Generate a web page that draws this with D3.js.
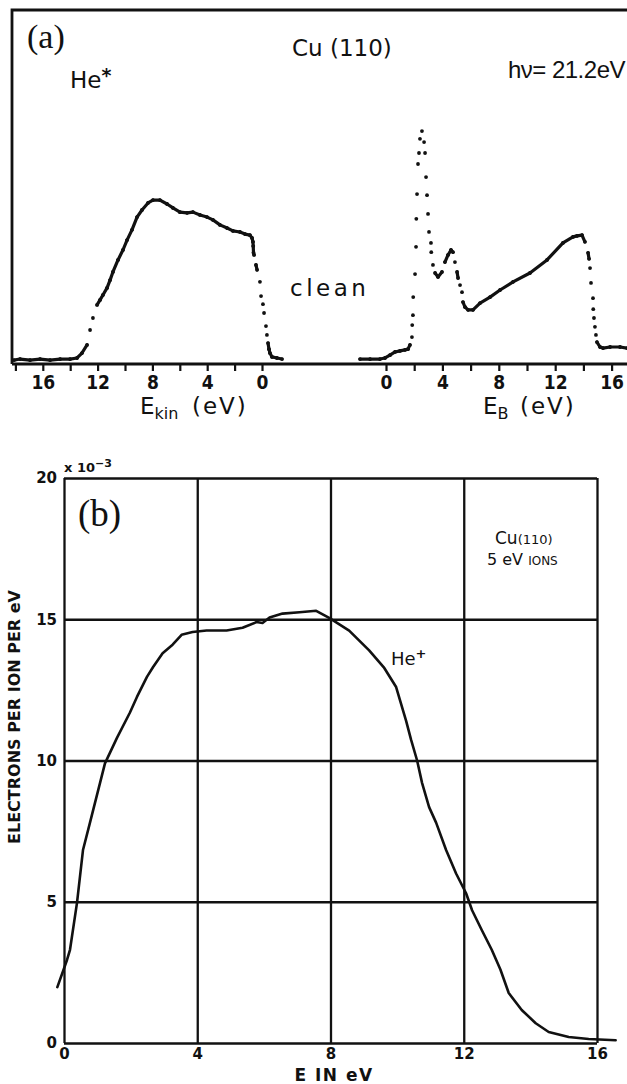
<!DOCTYPE html>
<html>
<head>
<meta charset="utf-8">
<script src="https://cdn.jsdelivr.net/npm/d3@7"></script>
<style>
  body { margin: 0; background: #fff; }
  svg { display: block; }
</style>
</head>
<body>
<svg></svg>
<script>
// root svg element

const width = 627, height = 1084;
const ink = '#111';
const sans = "'DejaVu Sans', sans-serif";
const arial = "'Liberation Sans', Arial, sans-serif";
const narrow = "'Liberation Sans Narrow', 'DejaVu Sans Condensed', 'Liberation Sans', sans-serif";
const serif = "'Liberation Serif', 'DejaVu Serif', serif";

const svg = d3.select('svg')
  .attr('width', width)
  .attr('height', height)
  .style('background', '#fff');


// data, panel (a): He* de-excitation spectrum (kinetic energy, eV) and UPS (binding energy, eV)
// intensities in arbitrary units, 0..100 = axis .. top of frame

const kinEnergy = [18.1, 17.66, 16.93, 16.2, 15.47, 14.74, 14.01, 13.5, 13.14, 12.77, 12.55, 12.34, 12.04,
  11.82, 11.61, 11.31, 11.09, 10.88, 10.51, 10.15, 9.85, 9.49, 9.12, 8.76, 8.32, 7.96, 7.45, 6.93, 6.5,
  5.99, 5.47, 5.04, 4.53, 4.01, 3.58, 3.07, 2.55, 2.12, 1.61, 1.24, 0.88, 0.73, 0.66, 0.64, 0.62, 0.58,
  0.44, 0.36, 0.15, 0.07, -0.07, -0.15, -0.29, -0.36, -0.44, -0.51, -0.58, -0.73, -1.09, -1.46];
const kinCounts = [1.1, 1.4, 1.1, 1.4, 1.1, 1.4, 1.4, 1.7, 3.1, 5.4, 9.6, 13.0, 16.7,
  18.1, 19.5, 21.5, 23.7, 26.0, 29.4, 32.2, 35.0, 37.9, 41.5, 43.5, 45.5, 46.3, 46.3, 45.2, 44.1,
  42.9, 42.7, 42.9, 42.1, 41.5, 40.7, 39.3, 38.4, 37.6, 37.3, 36.7, 36.4, 35.6, 34.5, 33.3, 31.4, 30.8,
  28.0, 26.6, 23.2, 19.2, 16.9, 14.4, 10.7, 8.2, 5.9, 4.2, 3.1, 2.0, 1.7, 1.4];

const bindEnergy = [-1.84, -1.13, -0.43, -0.07, 0.28, 0.64, 0.99, 1.35, 1.56, 1.7, 1.84, 1.86, 1.91, 1.93,
  2.06, 2.13, 2.15, 2.2, 2.27, 2.34, 2.41, 2.55, 2.7, 2.77, 2.84, 2.91, 2.98, 3.05, 3.19, 3.21, 3.33,
  3.48, 3.69, 3.97, 4.18, 4.4, 4.61, 4.75, 4.89, 5.04, 5.11, 5.25, 5.39, 5.46, 5.6, 5.82, 6.17, 6.67,
  7.38, 8.09, 9.01, 10.21, 11.42, 12.55, 13.26, 13.55, 13.9, 14.11, 14.33, 14.4, 14.47, 14.54, 14.68,
  14.7, 14.75, 14.82, 14.89, 14.96, 15.18, 15.39, 15.89, 16.6, 17.09];
const bindCounts = [1.4, 1.4, 1.4, 1.7, 2.5, 3.4, 3.7, 4.0, 4.2, 5.4, 7.6, 11.0, 13.8, 18.9,
  25.4, 33.1, 41.0, 48.0, 56.5, 59.6, 63.6, 65.8, 62.7, 59.6, 52.8, 47.7, 42.4, 37.3, 34.2, 31.6, 28.0,
  25.7, 24.6, 26.0, 28.8, 30.8, 32.2, 31.6, 28.8, 26.0, 24.3, 22.3, 20.3, 17.5, 16.1, 15.3, 15.3, 17.2,
  18.9, 20.9, 23.2, 25.7, 29.4, 34.2, 35.9, 36.2, 36.4, 34.5, 31.4, 29.7, 27.1, 22.9, 18.6,
  15.5, 13.0, 10.5, 8.2, 6.2, 4.8, 4.5, 4.8, 4.8, 4.5];

const kinTicks = [0, 2, 4, 6, 8, 10, 12, 14, 16, 18];
const bindTicks = [0, 2, 4, 6, 8, 10, 12, 14, 16];


// data, panel (b): He+ ion neutralization, electrons per ion per eV (x 10^-3)

const ionEnergy = [-0.2, 0.09, 0.18, 0.39, 0.57, 0.78, 1.08, 1.23, 1.59, 1.98, 2.19, 2.49, 2.67, 2.96,
  3.26, 3.53, 3.86, 4.28, 4.88, 5.36, 5.78, 5.96, 6.17, 6.56, 7.07, 7.57, 7.96, 8.56, 9.16, 9.6, 9.97,
  10.27, 10.42, 10.6, 10.75, 10.96, 11.17, 11.47, 11.77, 12.07, 12.25, 12.54, 12.84, 13.1, 13.35,
  13.74, 14.16, 14.55, 15.15, 15.75, 16.56];
const ionYield = [1.98, 2.94, 3.3, 4.96, 6.83, 7.8, 9.2, 9.9, 10.8, 11.7, 12.25, 12.96, 13.3, 13.8,
  14.1, 14.45, 14.55, 14.6, 14.6, 14.7, 14.9, 14.87, 15.06, 15.2, 15.25, 15.3, 15.05, 14.6, 13.9, 13.3, 12.6,
  11.4, 10.73, 10.0, 9.2, 8.35, 7.8, 6.83, 6.0, 5.3, 4.7, 4.0, 3.3, 2.6, 1.77,
  1.17, 0.7, 0.39, 0.21, 0.14, 0.1];

const ionXTicks = [0, 4, 8, 12, 16];
const ionYTicks = [0, 5, 10, 15, 20];


// ================= panel (a) =================

const a = { left: 12, top: 10, right: 627, bottom: 364 };

const xKin = d3.scaleLinear().domain([0, 18]).range([262, 15.4]);
const xBind = d3.scaleLinear().domain([0, 16]).range([386, 611.6]);
const yA = d3.scaleLinear().domain([0, 100]).range([a.bottom, a.top]);

const aG = svg.append('g').attr('class', 'panel-a');

// frame (left + top) and shared baseline

aG.append('path')
  .attr('d', `M${a.left},${a.bottom}V${a.top}H${a.right}`)
  .attr('fill', 'none')
  .attr('stroke', ink)
  .attr('stroke-width', 2.8);

aG.append('line')
  .attr('x1', a.left).attr('x2', a.right)
  .attr('y1', a.bottom).attr('y2', a.bottom)
  .attr('stroke', ink)
  .attr('stroke-width', 3);

// axes

function styleAxisA(g) {
  g.select('.domain').remove();
  g.selectAll('.tick line').attr('stroke', ink).attr('stroke-width', 2.2);
  g.selectAll('.tick text')
    .attr('fill', ink)
    .style('font-family', narrow)
    .style('font-size', '19px')
    .style('font-weight', 'bold');
}

aG.append('g')
  .attr('transform', `translate(0,${a.bottom})`)
  .call(d3.axisBottom(xKin).tickValues(kinTicks).tickSize(7).tickPadding(5)
    .tickFormat(d => d % 4 === 0 ? d : ''))
  .call(styleAxisA);

aG.append('g')
  .attr('transform', `translate(0,${a.bottom})`)
  .call(d3.axisBottom(xBind).tickValues(bindTicks).tickSize(7).tickPadding(5)
    .tickFormat(d => d % 4 === 0 ? d : ''))
  .call(styleAxisA);

// axis titles

function subLabel(g, x, y, main, sub, unit, unitX) {
  const t = g.append('text')
    .attr('x', x).attr('y', y)
    .attr('fill', ink)
    .style('font-family', sans)
    .style('font-size', '23px');
  t.append('tspan').text(main);
  t.append('tspan').text(sub).attr('dy', 5).style('font-size', '16px');
  t.append('tspan').text(unit).attr('x', unitX).attr('dy', -5).attr('letter-spacing', 2);
}

subLabel(aG, 140, 414, 'E', 'kin', '(eV)', 192);
subLabel(aG, 483, 414, 'E', 'B', '(eV)', 520);

// annotations

aG.append('text')
  .attr('x', 27).attr('y', 48)
  .attr('fill', ink)
  .style('font-family', serif)
  .style('font-size', '34px')
  .text('(a)');

const heStar = aG.append('text')
  .attr('x', 70).attr('y', 88)
  .attr('fill', ink)
  .style('font-family', sans)
  .style('font-size', '23px');
heStar.append('tspan').text('He');
heStar.append('tspan').text('*').attr('dy', -6).style('font-weight', 'bold').style('font-size', '19px');

aG.append('text')
  .attr('x', 292).attr('y', 56)
  .attr('fill', ink)
  .style('font-family', sans)
  .style('font-size', '23px')
  .text('Cu (110)');

aG.append('text')
  .attr('x', 625).attr('y', 78)
  .attr('text-anchor', 'end')
  .attr('fill', ink)
  .style('font-family', arial)
  .style('font-size', '24px')
  .attr('letter-spacing', -0.5)
  .text('hν= 21.2eV');

aG.append('text')
  .attr('x', 290).attr('y', 296)
  .attr('fill', ink)
  .style('font-family', sans)
  .style('font-size', '23px')
  .attr('letter-spacing', 3.5)
  .text('clean');

// dotted recorder traces: points are dots; flat stretches merge into a line

function drawTrace(g, xs, ys, x, y) {
  const pts = xs.map((e, i) => [x(e), y(ys[i])]);
  const segs = d3.pairs(pts).filter(([p, q]) => {
    const dx = Math.abs(q[0] - p[0]), dy = Math.abs(q[1] - p[1]);
    return Math.hypot(dx, dy) < 7 || dy < 3 * dx;
  });

  g.append('g')
    .selectAll('line')
    .data(segs)
    .join('line')
      .attr('x1', d => d[0][0]).attr('y1', d => d[0][1])
      .attr('x2', d => d[1][0]).attr('y2', d => d[1][1])
      .attr('stroke', ink)
      .attr('stroke-width', 3.2)
      .attr('stroke-linecap', 'round');

  g.append('g')
    .selectAll('circle')
    .data(pts)
    .join('circle')
      .attr('cx', d => d[0])
      .attr('cy', d => d[1])
      .attr('r', 1.9)
      .attr('fill', ink);
}

drawTrace(aG, kinEnergy, kinCounts, xKin, yA);
drawTrace(aG, bindEnergy, bindCounts, xBind, yA);


// ================= panel (b) =================

const b = { left: 64, top: 478, right: 597, bottom: 1043 };

const xIon = d3.scaleLinear().domain([0, 16]).range([b.left, b.right]);
const yIon = d3.scaleLinear().domain([0, 20]).range([b.bottom, b.top]);

const bG = svg.append('g').attr('class', 'panel-b');

function styleAxisB(g) {
  g.select('.domain').remove();
  g.selectAll('.tick line').attr('stroke', ink).attr('stroke-width', 2.3);
  g.selectAll('.tick text')
    .attr('fill', ink)
    .style('font-family', sans)
    .style('font-size', '15px')
    .style('font-weight', 'bold');
}

// grid doubles as the frame

bG.append('g')
  .attr('transform', `translate(0,${b.bottom})`)
  .call(d3.axisBottom(xIon).tickValues(ionXTicks).tickSize(-(b.bottom - b.top)).tickPadding(5))
  .call(styleAxisB);

bG.append('g')
  .attr('transform', `translate(${b.left},0)`)
  .call(d3.axisLeft(yIon).tickValues(ionYTicks).tickSize(-(b.right - b.left)).tickPadding(7))
  .call(styleAxisB);

// scale multiplier

const mult = bG.append('text')
  .attr('x', 64).attr('y', 472)
  .attr('fill', ink)
  .style('font-family', sans)
  .style('font-size', '13px')
  .style('font-weight', 'bold');
mult.append('tspan').text('x 10');
mult.append('tspan').text('−3').attr('dy', -5).style('font-size', '11px');

// axis titles

bG.append('text')
  .attr('x', 334).attr('y', 1081)
  .attr('text-anchor', 'middle')
  .attr('fill', ink)
  .style('font-family', sans)
  .style('font-size', '17px')
  .style('font-weight', 'bold')
  .attr('letter-spacing', 1.5)
  .text('E IN eV');

bG.append('text')
  .attr('transform', 'translate(20,717) rotate(-90)')
  .attr('text-anchor', 'middle')
  .attr('fill', ink)
  .style('font-family', sans)
  .style('font-size', '16px')
  .style('font-weight', 'bold')
  .text('ELECTRONS PER ION PER eV');

// annotations

bG.append('text')
  .attr('x', 78).attr('y', 526)
  .attr('fill', ink)
  .style('font-family', serif)
  .style('font-size', '37px')
  .text('(b)');

const cu = bG.append('text')
  .attr('x', 495).attr('y', 544)
  .attr('fill', ink)
  .style('font-family', sans)
  .style('font-size', '17px');
cu.append('tspan').text('Cu');
cu.append('tspan').text('(110)').style('font-size', '13px');

const ions = bG.append('text')
  .attr('x', 487).attr('y', 565)
  .attr('fill', ink)
  .style('font-family', sans)
  .style('font-size', '16px');
ions.append('tspan').text('5 eV ');
ions.append('tspan').text('IONS').style('font-size', '12px');

const hePlus = bG.append('text')
  .attr('x', 391).attr('y', 665)
  .attr('fill', ink)
  .style('font-family', sans)
  .style('font-size', '18px');
hePlus.append('tspan').text('He');
hePlus.append('tspan').text('+').attr('dy', -7).style('font-size', '13px').style('font-weight', 'bold');

// yield curve

const ionLine = d3.line()
  .x((d, i) => xIon(ionEnergy[i]))
  .y(d => yIon(d));

bG.append('path')
  .attr('d', ionLine(ionYield))
  .attr('fill', 'none')
  .attr('stroke', ink)
  .attr('stroke-width', 2.6)
  .attr('stroke-linejoin', 'round')
  .attr('stroke-linecap', 'round');
</script>
</body>
</html>
